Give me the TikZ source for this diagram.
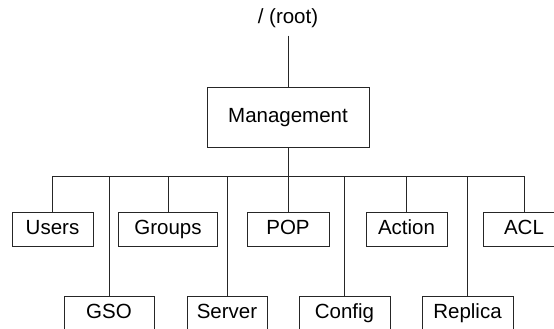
\documentclass[tikz,border=0pt]{standalone}
\usepackage{fontspec}
\setmainfont{Liberation Sans}
\usetikzlibrary{positioning}

\begin{document}
\begin{tikzpicture}[
  x=1bp, y=1bp,
  font=\fontsize{20.5bp}{24bp}\selectfont,
  box/.style={
    draw=black!85, line width=0.9bp, inner sep=0pt,
    text height=15bp, text depth=4bp,
    minimum height=34bp
  },
  conn/.style={draw=black!85, line width=0.9bp}
]
\clip (0,0) rectangle (554,328);

% Top
\node[inner sep=0pt] (root) at (288,310) {/ (root)};
\node[box, minimum width=162bp, minimum height=60bp] (mgmt) at (288,211) {Management};
\coordinate (bus) at (288,152);

% Upper row
\node[box, minimum width=81bp] (users) at (52.5,99) {Users};
\node[box, minimum width=99bp] (groups) at (168,99) {Groups};
\node[box, minimum width=82bp] (pop) at (288,99) {POP};
\node[box, minimum width=81bp] (action) at (406.5,99) {Action};
\node[box, minimum width=82bp] (acl) at (524,99) {ACL};

% Lower row
\node[box, minimum width=90bp] (gso) at (109,15) {GSO};
\node[box, minimum width=80bp] (server) at (227,15) {Server};
\node[box, minimum width=91bp] (config) at (344.5,15) {Config};
\node[box, minimum width=91bp] (replica) at (467.5,15) {Replica};

% Lines
\draw[conn, shorten <=8bp] (root.south) -- (mgmt.north);
\draw[conn] (mgmt.south) -- (bus);
\foreach \n in {users,gso,groups,server,pop,config,action,replica,acl}
  \draw[conn] (bus) -| (\n.north);

\end{tikzpicture}
\end{document}
